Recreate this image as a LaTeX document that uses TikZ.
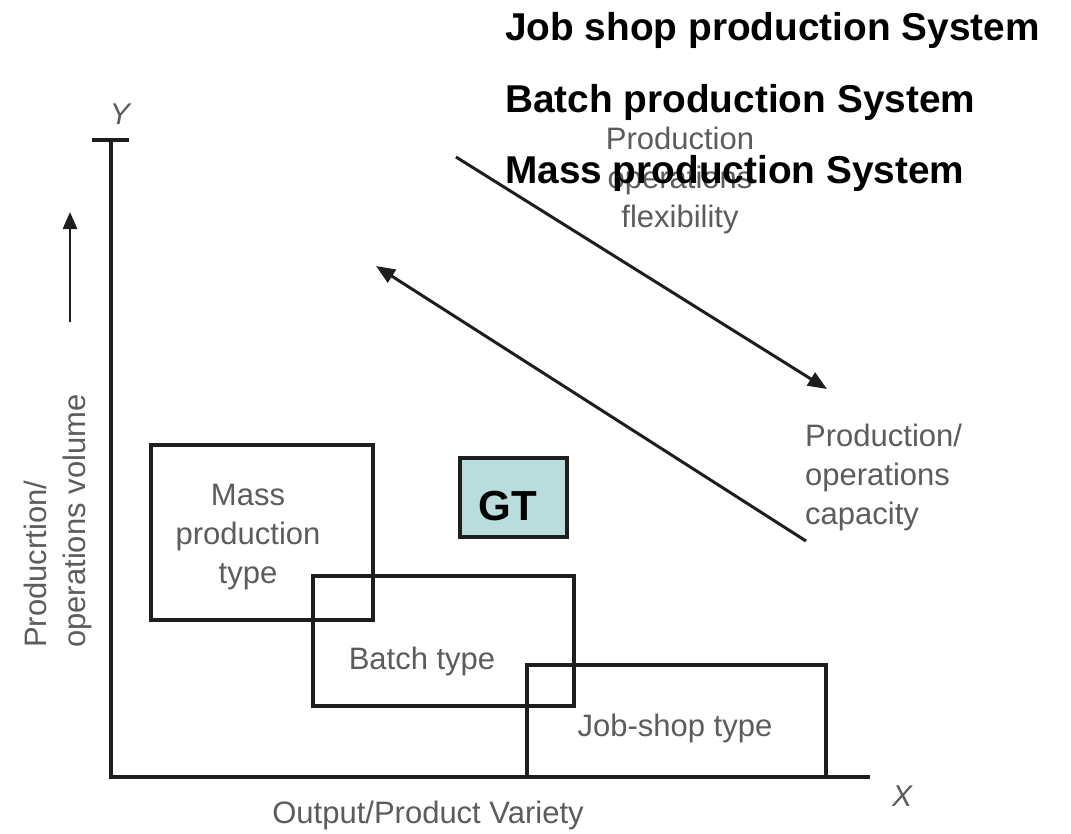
\documentclass[tikz,border=0pt]{standalone}
\usepackage{fontspec}
\setmainfont{Liberation Sans}
\usetikzlibrary{arrows.meta}
\definecolor{labelgray}{HTML}{5C5C5C}
\definecolor{inkline}{HTML}{1E1E1E}
\definecolor{gtfill}{HTML}{B9DCDC}
\tikzset{
  axisline/.style={draw=inkline, line width=3.8pt},
  typebox/.style={draw=inkline, line width=3.2pt, rectangle, inner sep=0pt},
  graytext/.style={text=labelgray, inner sep=0pt, align=center,
    font=\fontsize{31}{39}\selectfont},
  titletext/.style={text=black, inner sep=0pt, anchor=base west,
    font=\fontsize{38.8}{44}\selectfont\bfseries},
  trend/.style={draw=inkline, line width=3pt,
    -{Triangle[length=19pt,width=15pt]}},
}
\begin{document}
\begin{tikzpicture}[x=1pt,y=-1pt]
\useasboundingbox (0,0) rectangle (1071,833);
\fill[white] (0,0) rectangle (1071,833);

% axes
\coordinate (origin) at (111,777);
\coordinate (ytop) at (111,140);
\coordinate (xend) at (870,777);
\coordinate (tickl) at (92,140);
\coordinate (tickr) at (129,140);
\draw[axisline] (ytop) -- (origin) -- (xend);
\draw[axisline] (tickl) -- (tickr);
\node[graytext, font=\fontsize{30}{36}\selectfont\itshape] (ylab) at (120,114) {Y};
\node[graytext, font=\fontsize{30}{36}\selectfont\itshape] (xlab) at (902,796) {X};

% axis captions
\node[graytext, anchor=center] (xcap) at (428,815) {Output/Product Variety};
\node[graytext, rotate=90, align=left, anchor=south west] (ycap) at (92,648)
  {Producrtion/\\operations volume};
\coordinate (upfrom) at (70,322);
\coordinate (upto) at (70,212);
\draw[trend, line width=2.8pt, -{Triangle[length=17pt,width=14pt]}] (upfrom) -- (upto);

% production type regions
\node[typebox, minimum width=222pt, minimum height=175pt] (massbox) at (262,532.5) {};
\node[typebox, minimum width=261pt, minimum height=130pt] (batchbox) at (443.5,641) {};
\node[typebox, minimum width=299pt, minimum height=112pt] (jobbox) at (676.5,721) {};
\node[typebox, fill=gtfill, minimum width=107pt, minimum height=79pt] (gtbox) at (513.5,497.5) {};

\node[graytext] (masstxt) at (248,537) {Mass\\production\\type};
\node[graytext] (batchtxt) at (422,661) {Batch type};
\node[graytext] (jobtxt) at (675,728) {Job-shop type};
\node[inner sep=0pt, font=\fontsize{42}{48}\selectfont\bfseries] (gttxt) at (508,506) {GT};

% trade-off arrows
\node[graytext] (flextxt) at (680,180) {Production\\operations\\flexibility};
\node[graytext, align=left, anchor=north west] (captxt) at (805,424)
  {Production/\\operations\\capacity};
\coordinate (flexfrom) at (456,157);
\coordinate (flexto) at (827,389);
\coordinate (capfrom) at (806,541);
\coordinate (capto) at (376,266);
\draw[trend] (flexfrom) -- (flexto);
\draw[trend] (capfrom) -- (capto);

% headings
\node[titletext] (jobtitle) at (505,40) {Job shop production System};
\node[titletext] (batchtitle) at (505,112) {Batch production System};
\node[titletext] (masstitle) at (505,183) {Mass production System};
\end{tikzpicture}
\end{document}
